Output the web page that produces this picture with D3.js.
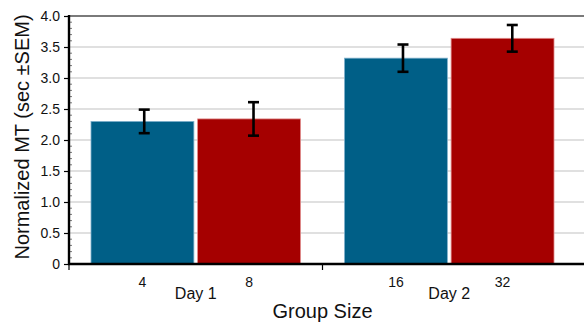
<!DOCTYPE html>
<html>
<head>
<meta charset="utf-8">
<script src="https://d3js.org/d3.v7.min.js"></script>
<style>
  body { margin: 0; background: #fff; }
  text { font-family: "Liberation Sans", Arial, sans-serif; fill: #111; }
</style>
</head>
<body>
<svg id="chart"></svg>
<script>
// data
const days = ["Day 1", "Day 2"];
const groupSizes = ["4", "8", "16", "32"];
const dayOfGroup = ["Day 1", "Day 1", "Day 2", "Day 2"];
const meanMT = [2.30, 2.34, 3.32, 3.64];
const semMT = [0.19, 0.27, 0.22, 0.215];
const barColors = ["#005f87", "#a50000", "#005f87", "#a50000"];
const edgeColors = ["#7fb0cc", "#e08a8a", "#7fb0cc", "#e08a8a"];
const yTicks = [0, 0.5, 1.0, 1.5, 2.0, 2.5, 3.0, 3.5, 4.0];

const width = 584, height = 322;
const margin = { top: 16, right: 8, bottom: 58, left: 69 };

const svg = d3.select("#chart").attr("width", width).attr("height", height);

const y = d3.scaleLinear().domain([0, 4]).range([height - margin.bottom, margin.top]);

// outer scale for the day groups, inner for bars
const xDay = d3.scaleBand().domain(days).range([margin.left, width - margin.right]);
const xBar = d3.scaleBand().domain([0, 1]).range([22, xDay.bandwidth() - 22]).paddingInner(0.035);
const barX = i => xDay(dayOfGroup[i]) + xBar(i % 2);

// error bars sit on a slightly stretched scale in the original
const xErrDay = d3.scaleBand().domain(days).range([margin.left + 0.5, width + 3]);
const xErrBar = d3.scaleBand().domain([0, 1]).range([22, xErrDay.bandwidth() - 22]).paddingInner(0.035);
const errX = i => xErrDay(dayOfGroup[i]) + xErrBar(i % 2) + xErrBar.bandwidth() / 2;

// gridlines
svg.append("g")
  .selectAll("line")
  .data(yTicks.slice(1, -1))
  .join("line")
  .attr("x1", margin.left).attr("x2", width)
  .attr("y1", d => y(d)).attr("y2", d => y(d))
  .attr("stroke", "#d6d6d6").attr("stroke-width", 1.5);

// top frame line
svg.append("line")
  .attr("x1", margin.left).attr("x2", width)
  .attr("y1", y(4)).attr("y2", y(4))
  .attr("stroke", "#7a7a7a").attr("stroke-width", 2.2);

// bars
svg.append("g")
  .selectAll("rect")
  .data(meanMT)
  .join("rect")
  .attr("x", (d, i) => barX(i))
  .attr("y", d => y(d))
  .attr("width", xBar.bandwidth())
  .attr("height", d => y(0) - y(d))
  .attr("fill", (d, i) => barColors[i])
  .attr("stroke", (d, i) => edgeColors[i])
  .attr("stroke-width", 0.8);

// error bars
const eb = svg.append("g").attr("stroke", "#000").attr("stroke-width", 2.6);
meanMT.forEach((m, i) => {
  const cx = errX(i);
  eb.append("line").attr("x1", cx).attr("x2", cx).attr("y1", y(m + semMT[i])).attr("y2", y(m - semMT[i]));
  eb.append("line").attr("x1", cx - 5.5).attr("x2", cx + 5.5).attr("y1", y(m + semMT[i])).attr("y2", y(m + semMT[i]));
  eb.append("line").attr("x1", cx - 5.5).attr("x2", cx + 5.5).attr("y1", y(m - semMT[i])).attr("y2", y(m - semMT[i]));
});

// y axis
const yAxis = d3.axisLeft(y).tickValues(yTicks).tickSize(5).tickPadding(4)
  .tickFormat(d => d === 0 ? "0" : d3.format(".1f")(d));
const gy = svg.append("g").attr("transform", `translate(${margin.left},0)`).call(yAxis);
gy.select(".domain").remove();
gy.selectAll("text").attr("font-size", 14).attr("fill", "#111");
gy.selectAll("line").attr("stroke", "#000").attr("stroke-width", 1.2);

// minor ticks on the inner side
svg.append("g")
  .selectAll("line")
  .data(d3.range(1, 40).filter(k => k % 5 !== 0).map(k => k / 10))
  .join("line")
  .attr("x1", margin.left).attr("x2", margin.left + 3)
  .attr("y1", d => y(d)).attr("y2", d => y(d))
  .attr("stroke", "#555").attr("stroke-width", 0.8);

svg.append("line")
  .attr("x1", margin.left).attr("x2", margin.left)
  .attr("y1", y(4) - 1).attr("y2", y(0) + 1)
  .attr("stroke", "#000").attr("stroke-width", 2.4);

// x axis
svg.append("line")
  .attr("x1", margin.left - 1).attr("x2", width)
  .attr("y1", y(0)).attr("y2", y(0))
  .attr("stroke", "#000").attr("stroke-width", 2.4);

svg.append("g")
  .selectAll("line")
  .data(days.map(d => xDay(d)))
  .join("line")
  .attr("x1", d => d).attr("x2", d => d)
  .attr("y1", y(0)).attr("y2", y(0) + 6)
  .attr("stroke", "#000").attr("stroke-width", 1.2);

// group size labels
svg.append("g")
  .selectAll("text")
  .data(groupSizes)
  .join("text")
  .attr("x", (d, i) => barX(i) + xBar.bandwidth() / 2)
  .attr("y", 287)
  .attr("text-anchor", "middle")
  .attr("font-size", 14)
  .text(d => d);

// day labels
svg.append("g")
  .selectAll("text")
  .data(days)
  .join("text")
  .attr("x", d => xDay(d) + xDay.bandwidth() / 2)
  .attr("y", 299)
  .attr("text-anchor", "middle")
  .attr("font-size", 16)
  .text(d => d);

// axis titles
svg.append("text")
  .attr("x", (margin.left + width - margin.right) / 2)
  .attr("y", 318)
  .attr("text-anchor", "middle")
  .attr("font-size", 20)
  .text("Group Size");

svg.append("text")
  .attr("transform", `translate(29,137) rotate(-90)`)
  .attr("text-anchor", "middle")
  .attr("font-size", 20)
  .text("Normalized MT (sec \u00b1SEM)");
</script>
</body>
</html>
